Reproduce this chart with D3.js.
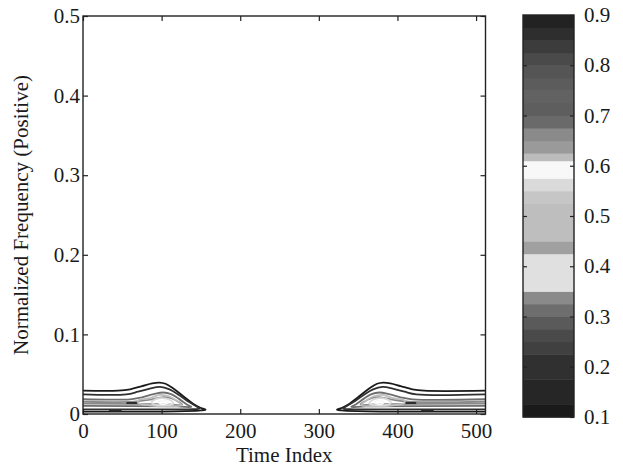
<!DOCTYPE html>
<html>
<head>
<meta charset="utf-8">
<script src="https://cdn.jsdelivr.net/npm/d3@7"></script>
<style>
  body { margin: 0; background: #fff; }
  text { font-family: "Liberation Serif", "Times New Roman", serif; fill: #1a1a1a; }
</style>
</head>
<body>
<svg id="chart" width="623" height="466"></svg>
<script>
// Axis ticks
const xTicks = [0, 100, 200, 300, 400, 500];
const yTicks = [0, 0.1, 0.2, 0.3, 0.4, 0.5];
const cbTicks = [0.1, 0.2, 0.3, 0.4, 0.5, 0.6, 0.7, 0.8, 0.9];

// Colour bar: band edges (bottom to top) and the grey of each band
const cbEdges = [0.1, 0.125, 0.175, 0.225, 0.25, 0.275, 0.3, 0.325, 0.35, 0.425, 0.45, 0.525,
                 0.55, 0.575, 0.61, 0.625, 0.65, 0.675, 0.7, 0.725, 0.75, 0.775, 0.8, 0.825,
                 0.85, 0.875, 0.9];
const cbGrays = ["#1a1a1a", "#262626", "#303030", "#404040", "#4a4a4a", "#5a5a5a", "#6e6e6e",
                 "#8a8a8a", "#e0e0e0", "#a0a0a0", "#bebebe", "#c6c6c6", "#dadada", "#f8f8f8",
                 "#bcbcbc", "#9a9a9a", "#8a8a8a", "#6a6a6a", "#5e5e5e", "#626262", "#5c5c5c",
                 "#555555", "#4a4a4a", "#3c3c3c", "#2e2e2e", "#222222"];

// Early component: contour levels and [time, frequency] vertices
const earlyLevels = [0.1, 0.2, 0.3, 0.33, 0.45, 0.55, 0.6, 0.86, 0.86];
const earlyClosed = [false, false, false, false, true, true, true, false, false];
const earlyLines = [
  [[0, 0.0293], [45, 0.0293], [60, 0.031], [75, 0.035], [88, 0.0385], [97, 0.0395], [105, 0.038],
   [115, 0.032], [128, 0.022], [140, 0.013], [150, 0.0075], [156, 0.0055], [150, 0.0045],
   [130, 0.0035], [100, 0.003], [60, 0.003], [0, 0.003]],
  [[0, 0.0247], [55, 0.0247], [70, 0.028], [85, 0.032], [98, 0.034], [110, 0.031], [122, 0.024],
   [135, 0.015], [145, 0.009], [148, 0.007], [140, 0.006], [100, 0.0058], [0, 0.0059]],
  [[0, 0.0185], [60, 0.0185], [75, 0.021], [90, 0.025], [102, 0.027], [112, 0.025], [122, 0.019],
   [132, 0.012], [138, 0.009], [120, 0.0095], [0, 0.0101]],
  [[0, 0.0155], [65, 0.0155], [85, 0.018], [100, 0.021], [112, 0.02], [122, 0.015], [126, 0.012],
   [100, 0.0125], [0, 0.013]],
  [[70, 0.017], [85, 0.02], [98, 0.024], [110, 0.022], [120, 0.016], [125, 0.011], [110, 0.0095],
   [85, 0.011], [70, 0.014]],
  [[88, 0.016], [100, 0.02], [110, 0.018], [115, 0.013], [100, 0.011], [88, 0.013]],
  [[96, 0.015], [104, 0.017], [108, 0.014], [100, 0.0125]],
  [[34, 0.0045], [48, 0.0045]],
  [[56, 0.0138], [68, 0.0138]]
];

// Late component
const lateLevels = [0.1, 0.2, 0.3, 0.33, 0.45, 0.55, 0.6, 0.86, 0.86];
const lateClosed = [false, false, false, false, true, true, true, false, false];
const lateLines = [
  [[512, 0.0293], [434, 0.0293], [419, 0.031], [404, 0.035], [391, 0.0385], [382, 0.0395],
   [374, 0.038], [364, 0.032], [351, 0.022], [339, 0.013], [329, 0.0075], [323, 0.0055],
   [329, 0.0045], [349, 0.0035], [379, 0.003], [419, 0.003], [512, 0.003]],
  [[512, 0.0247], [424, 0.0247], [409, 0.028], [394, 0.032], [381, 0.034], [369, 0.031],
   [357, 0.024], [344, 0.015], [334, 0.009], [331, 0.007], [339, 0.006], [379, 0.0058],
   [512, 0.0059]],
  [[512, 0.0185], [419, 0.0185], [404, 0.021], [389, 0.025], [377, 0.027], [367, 0.025],
   [357, 0.019], [347, 0.012], [341, 0.009], [359, 0.0095], [512, 0.0101]],
  [[512, 0.0155], [414, 0.0155], [394, 0.018], [379, 0.021], [367, 0.02], [357, 0.015],
   [353, 0.012], [379, 0.0125], [512, 0.013]],
  [[409, 0.017], [394, 0.02], [381, 0.024], [369, 0.022], [359, 0.016], [354, 0.011],
   [369, 0.0095], [394, 0.011], [409, 0.014]],
  [[391, 0.016], [379, 0.02], [369, 0.018], [364, 0.013], [379, 0.011], [391, 0.013]],
  [[383, 0.015], [375, 0.017], [371, 0.014], [379, 0.0125]],
  [[431, 0.0045], [445, 0.0045]],
  [[411, 0.0138], [423, 0.0138]]
];

const svg = d3.select("#chart");
const plot = { left: 83, right: 485.5, top: 16, bottom: 414 };
const cb = { left: 523, right: 574, top: 15, bottom: 417 };

const x = d3.scaleLinear().domain([0, 512]).range([plot.left, plot.right]);
const y = d3.scaleLinear().domain([0, 0.5]).range([plot.bottom, plot.top]);
const cbY = d3.scaleLinear().domain([0.1, 0.9]).range([cb.bottom, cb.top]);
const levelColor = d3.scaleThreshold().domain(cbEdges.slice(1, -1)).range(cbGrays);

// Clip contours to the plotting area
svg.append("defs").append("clipPath").attr("id", "plot-clip")
  .append("rect")
  .attr("x", plot.left).attr("y", plot.top)
  .attr("width", plot.right - plot.left).attr("height", plot.bottom - plot.top);

const contourLayer = svg.append("g").attr("clip-path", "url(#plot-clip)");

function drawContours(levels, lines, closed) {
  lines.forEach((pts, i) => {
    const gen = d3.line()
      .x(d => x(d[0])).y(d => y(d[1]))
      .curve(closed[i] ? d3.curveCatmullRomClosed : d3.curveCatmullRom);
    contourLayer.append("path")
      .attr("d", gen(pts))
      .attr("fill", "none")
      .attr("stroke", levelColor(levels[i]))
      .attr("stroke-width", 1.8)
      .attr("stroke-linejoin", "round")
      .attr("stroke-linecap", "round");
  });
}
drawContours(earlyLevels, earlyLines, earlyClosed);
drawContours(lateLevels, lateLines, lateClosed);

// Axes with inward ticks on all four sides
const fontSize = 21;
function styleAxis(g) {
  g.select(".domain").remove();
  g.selectAll(".tick line").attr("stroke", "#222").attr("stroke-width", 1.2);
  g.selectAll(".tick text").style("font-size", fontSize + "px")
    .style("font-family", '"Liberation Serif", serif').attr("fill", "#1a1a1a");
}
svg.append("g").attr("transform", `translate(0,${plot.bottom})`)
  .call(d3.axisBottom(x).tickValues(xTicks).tickSize(-5).tickPadding(9).tickFormat(d3.format("d")))
  .call(styleAxis);
svg.append("g").attr("transform", `translate(0,${plot.top})`)
  .call(d3.axisTop(x).tickValues(xTicks).tickSize(-5).tickFormat(""))
  .call(styleAxis);
svg.append("g").attr("transform", `translate(${plot.left},0)`)
  .call(d3.axisLeft(y).tickValues(yTicks).tickSize(-5).tickPadding(3)
    .tickFormat(d => d === 0 ? "0" : d3.format(".1f")(d)))
  .call(styleAxis);
svg.append("g").attr("transform", `translate(${plot.right},0)`)
  .call(d3.axisRight(y).tickValues(yTicks).tickSize(-5).tickFormat(""))
  .call(styleAxis);

svg.append("rect")
  .attr("x", plot.left).attr("y", plot.top)
  .attr("width", plot.right - plot.left).attr("height", plot.bottom - plot.top)
  .attr("fill", "none").attr("stroke", "#222").attr("stroke-width", 1.4);

// Axis titles
svg.append("text")
  .attr("x", (plot.left + plot.right) / 2).attr("y", 462)
  .attr("text-anchor", "middle").style("font-size", fontSize + "px")
  .text("Time Index");
svg.append("text")
  .attr("transform", `translate(28,${(plot.top + plot.bottom) / 2}) rotate(-90)`)
  .attr("text-anchor", "middle").style("font-size", fontSize + "px")
  .text("Normalized Frequency (Positive)");

// Colour bar
const bands = cbGrays.map((g, i) => ({ lo: cbEdges[i], hi: cbEdges[i + 1], gray: g }));
svg.append("g").selectAll("rect").data(bands).join("rect")
  .attr("x", cb.left).attr("width", cb.right - cb.left)
  .attr("y", d => cbY(d.hi)).attr("height", d => cbY(d.lo) - cbY(d.hi) + 0.5)
  .attr("fill", d => d.gray);

svg.append("g").attr("transform", `translate(${cb.left},0)`)
  .call(d3.axisRight(cbY).tickValues(cbTicks.slice(1, -1)).tickSize(4).tickFormat(""))
  .call(styleAxis);
svg.append("g").attr("transform", `translate(${cb.right},0)`)
  .call(d3.axisRight(cbY).tickValues(cbTicks).tickSize(-4).tickPadding(10)
    .tickFormat(d3.format(".1f")))
  .call(styleAxis);

svg.append("rect")
  .attr("x", cb.left).attr("y", cb.top)
  .attr("width", cb.right - cb.left).attr("height", cb.bottom - cb.top)
  .attr("fill", "none").attr("stroke", "#222").attr("stroke-width", 1.4);
</script>
</body>
</html>
